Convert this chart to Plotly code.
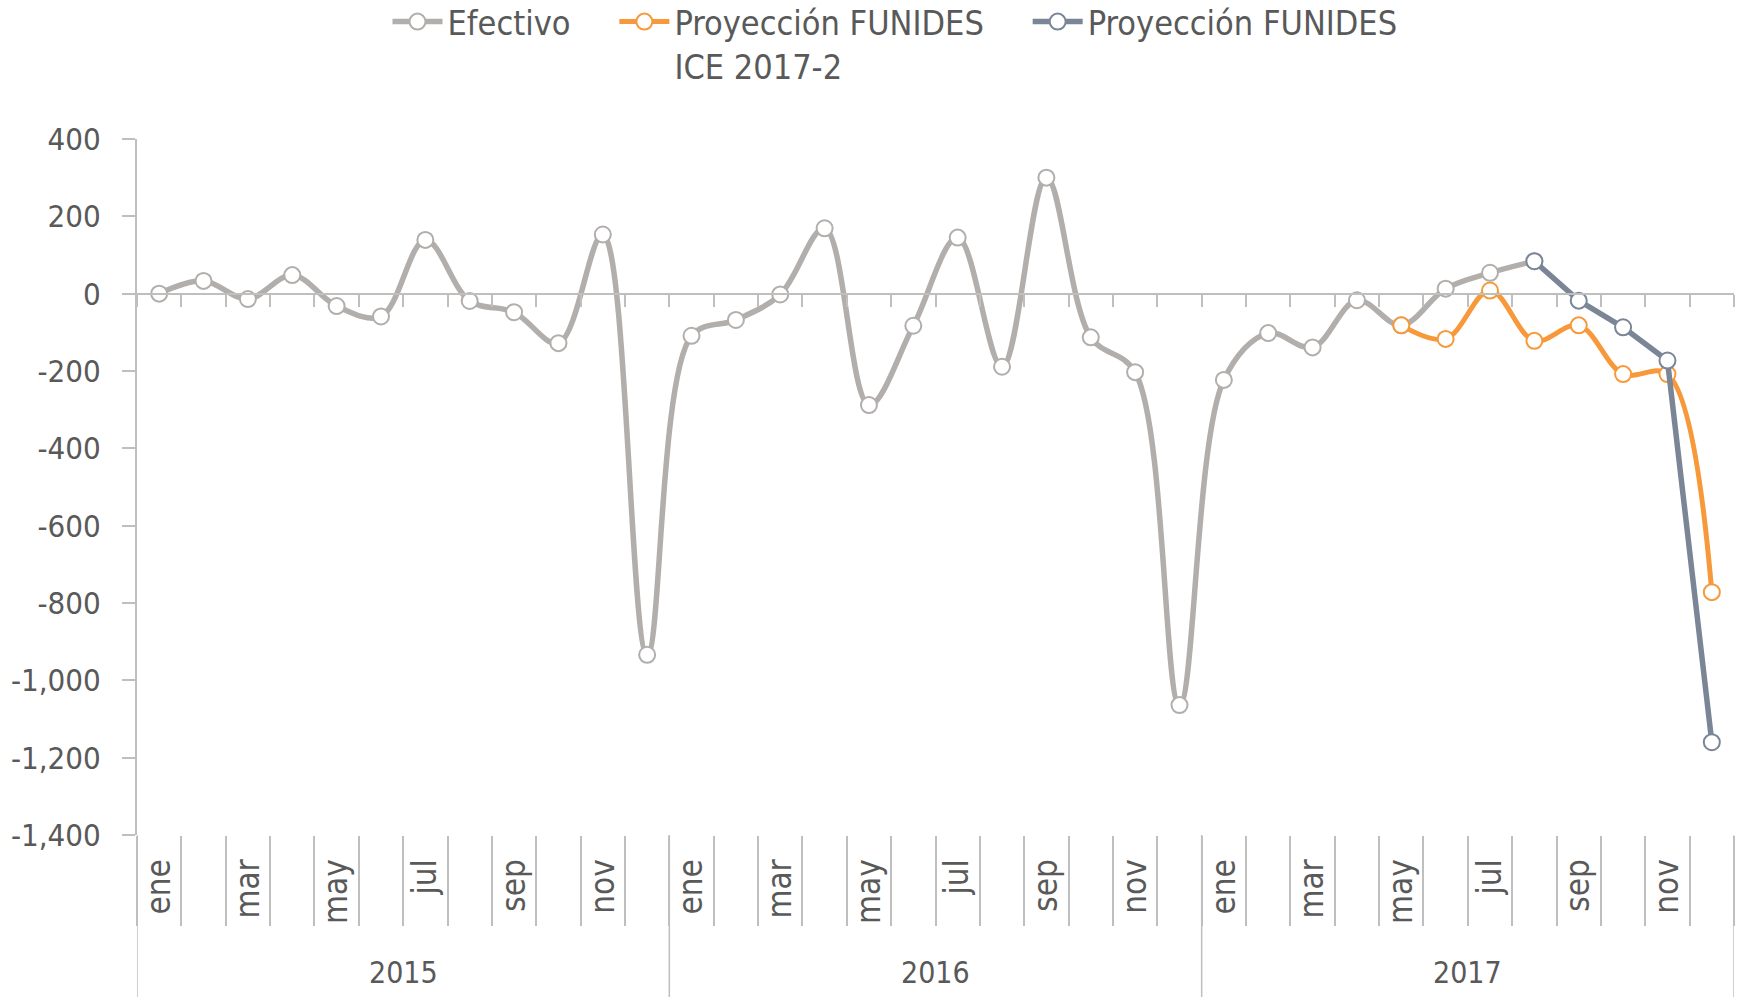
import plotly.graph_objects as go

# ---------------- data ----------------
meses = ['ene', 'feb', 'mar', 'abr', 'may', 'jun', 'jul', 'ago', 'sep', 'oct', 'nov', 'dic']
anios = ['2015', '2016', '2017']

efectivo = [0, 33, -14, 48, -32, -59, 139, -19, -48, -128, 153, -934,
            -109, -68, -2, 169, -288, -83, 145, -189, 300, -113, -203, -1064,
            -223, -102, -139, -17, -82, 13, 54, 84]
ice_2017_2 = [-82, -117, 8, -122, -82, -208, -208, -772]        # may-dic 2017
funides = [84, -18, -87, -173, -1160]                              # ago-dic 2017

series_names = ['Efectivo', 'Proyección FUNIDES<br>ICE 2017-2', 'Proyección FUNIDES']

y_tickvals = [-1400, -1200, -1000, -800, -600, -400, -200, 0, 200, 400]
y_ticktext = ['-1,400', '-1,200', '-1,000', '-800', '-600', '-400', '-200', '0', '200', '400']

n = len(meses) * len(anios)
idx_all = list(range(n))
x_efectivo = idx_all[:len(efectivo)]
x_ice = idx_all[n - len(ice_2017_2):]
x_fun = idx_all[n - len(funides):]

C_GRAY = '#b2aeac'
C_ORANGE = '#f7993a'
C_DARK = '#7a8696'
C_AXIS = '#bfbfbf'
C_TEXT = '#595959'
FONT = 'DejaVu Sans Condensed, DejaVu Sans, sans-serif'
PAD = '\u00a0' * 4  # spacing after legend entries

fig = go.Figure()

fig.add_trace(go.Scatter(
    x=x_efectivo, y=efectivo, name=series_names[0] + PAD, xaxis='x2', yaxis='y',
    mode='lines+markers', line=dict(color=C_GRAY, width=5.5, shape='spline', smoothing=1),
    marker=dict(symbol='circle', size=16, color='white', line=dict(color=C_GRAY, width=2)),
))
fig.add_trace(go.Scatter(
    x=x_ice, y=ice_2017_2, name=series_names[1].replace('<br>', PAD + '<br>'), xaxis='x2', yaxis='y',
    mode='lines+markers', line=dict(color=C_ORANGE, width=5, shape='spline', smoothing=1),
    marker=dict(symbol='circle', size=16, color='white', line=dict(color=C_ORANGE, width=2)),
))
fig.add_trace(go.Scatter(
    x=x_fun, y=funides, name=series_names[2], xaxis='x2', yaxis='y',
    mode='lines+markers', line=dict(color=C_DARK, width=5.5, shape='linear'),
    marker=dict(symbol='circle', size=16, color='white', line=dict(color=C_DARK, width=2)),
))

ymin, ymax = y_tickvals[0], y_tickvals[-1]
xr = [-0.5, n - 0.5]
boundaries = [i - 0.5 for i in range(n + 1)]
zero_pos = (0 - ymin) / (ymax - ymin)

# plot area geometry (pixels)
W, H = 1749, 997
ml, mr, mt, mb = 137, 15, 139, 162
plot_h = H - mt - mb
plot_w = W - ml - mr

fig.update_layout(
    width=W, height=H, autosize=False,
    margin=dict(l=ml, r=mr, t=mt, b=mb, pad=0, autoexpand=False),
    paper_bgcolor='white', plot_bgcolor='white',
    showlegend=True,
    legend=dict(orientation='h', x=(895 - ml) / plot_w, xanchor='center', xref='paper',
                y=1 + (mt + 7) / plot_h, yanchor='top', yref='paper',
                font=dict(family=FONT, size=34, color=C_TEXT), valign='top',
                itemwidth=50, tracegroupgap=0),
    # bottom axis: month labels + separators
    xaxis=dict(range=xr, domain=[0, 1], anchor='y', showgrid=False, zeroline=False, showline=False,
               automargin=False,
               tickmode='array', tickvals=idx_all[::2], ticktext=[meses[i % 12] for i in idx_all[::2]],
               tickangle=-90, ticks='outside', ticklen=0, tickcolor='white',
               ticklabelstandoff=10,
               tickfont=dict(family=FONT, size=33, color=C_TEXT),
               minor=dict(tickmode='array', tickvals=boundaries, ticks='outside', ticklen=90,
                          tickcolor=C_AXIS, tickwidth=1.5)),
    # axis at zero with category ticks
    xaxis2=dict(range=xr, overlaying='x', anchor='free', position=zero_pos, side='bottom',
                showgrid=False, zeroline=False, showline=True, linecolor=C_AXIS, linewidth=2,
                automargin=False,
                tickmode='array', tickvals=boundaries, ticks='outside', ticklen=12,
                tickcolor=C_AXIS, tickwidth=2, showticklabels=False),
    yaxis=dict(range=[ymin, ymax], domain=[0, 1], showgrid=False, zeroline=False,
               showline=True, linecolor=C_AXIS, linewidth=2, automargin=False,
               tickmode='array', tickvals=y_tickvals, ticktext=y_ticktext,
               ticks='outside', ticklen=13, tickcolor=C_AXIS, tickwidth=2,
               ticklabelstandoff=15,
               tickfont=dict(family=FONT, size=31, color=C_TEXT)),
)

# year separators and labels
year_bounds = [i * 12 - 0.5 for i in range(len(anios) + 1)]
for xb in year_bounds:
    fig.add_shape(type='line', xref='x', yref='paper', x0=xb, x1=xb, y0=0, y1=-mb / plot_h,
                  line=dict(color=C_AXIS, width=1.5), layer='below')
for k, a in enumerate(anios):
    fig.add_annotation(x=k * 12 + 5.5, xref='x', y=-(972 - (H - mb)) / plot_h, yref='paper',
                       text=a, showarrow=False, xanchor='center', yanchor='middle',
                       font=dict(family=FONT, size=30, color=C_TEXT))

fig.write_html("out.html", config={'displayModeBar': False},
               post_script="document.body.style.margin='0';")
